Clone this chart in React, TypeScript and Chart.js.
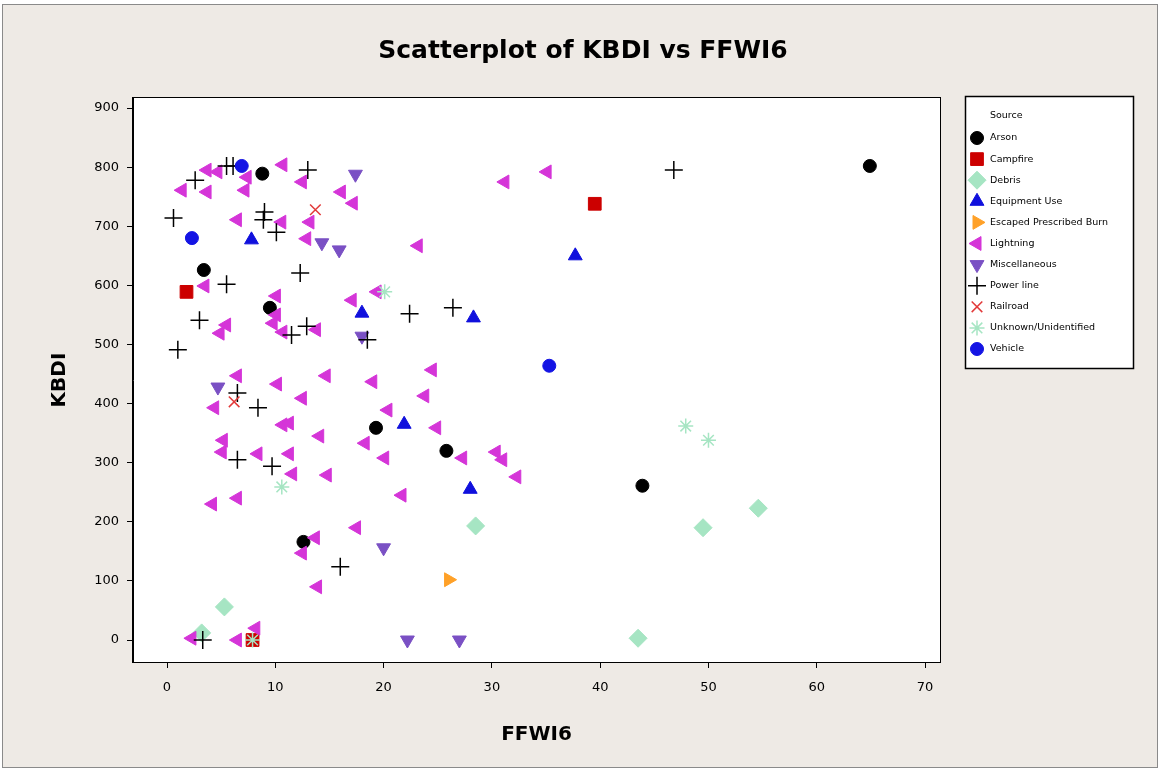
import React, { useEffect, useRef } from 'react';
import { Chart, registerables } from 'chart.js';
import { drawPoint } from 'chart.js/helpers';

Chart.register(...registerables);

const chartTitle = 'Scatterplot of KBDI vs FFWI6';
const xTitle = 'FFWI6';
const yTitle = 'KBDI';
const legendTitle = 'Source';

const xTicks = [0, 10, 20, 30, 40, 50, 60, 70];
const yTicks = [0, 100, 200, 300, 400, 500, 600, 700, 800, 900];

const arson = [[8.8, 789], [3.4, 626], [9.5, 562], [19.3, 359], [25.8, 320], [43.9, 261], [12.6, 166], [64.9, 802]];
const campfire = [[1.8, 589], [39.5, 738], [7.9, 0]];
const debris = [[28.5, 193], [49.5, 190], [54.6, 223], [5.3, 56], [3.2, 12], [43.5, 3]];
const equipmentUse = [[7.8, 677], [37.7, 650], [18.0, 553], [28.3, 545], [21.9, 365], [28.0, 255]];
const escapedBurn = [[26.0, 102]];
const lightning = [
  [3.7, 795], [4.7, 792], [7.4, 783], [7.2, 761], [1.4, 761], [3.7, 758], [10.7, 804], [12.5, 775],
  [16.1, 758], [17.2, 739], [31.2, 775], [35.1, 792], [6.5, 711], [10.6, 707], [13.2, 707], [12.9, 679],
  [23.2, 667], [3.5, 599], [10.1, 582], [17.1, 575], [19.4, 589], [10.1, 550], [9.8, 536], [10.7, 521],
  [5.5, 533], [4.9, 519], [13.8, 525], [6.5, 447], [10.2, 433], [14.7, 447], [19.0, 437], [24.5, 457],
  [23.8, 413], [12.5, 409], [4.4, 393], [20.4, 389], [10.7, 364], [11.3, 367], [14.1, 345], [18.3, 333],
  [24.9, 359], [5.2, 338], [5.1, 318], [8.4, 315], [11.3, 315], [20.1, 308], [27.3, 308], [30.4, 318],
  [31.0, 305], [32.3, 276], [11.6, 281], [14.8, 279], [21.7, 245], [4.2, 230], [6.5, 240], [13.7, 173],
  [12.5, 147], [17.5, 190], [13.9, 90], [8.2, 20], [6.5, 0], [2.3, 3],
];
const miscellaneous = [[17.4, 788], [14.3, 672], [15.9, 660], [18.0, 514], [4.7, 428], [20.0, 156], [22.2, 0], [27.0, 0]];
const powerLine = [
  [5.5, 802], [6.1, 802], [2.6, 778], [13.0, 795], [46.8, 795], [0.6, 714], [9.0, 724], [8.9, 711],
  [10.1, 690], [12.3, 621], [5.5, 602], [3.0, 541], [1.0, 491], [11.5, 516], [12.9, 531], [18.5, 508],
  [22.4, 552], [26.4, 562], [6.5, 418], [8.4, 393], [6.5, 305], [9.7, 294], [16.0, 124], [3.3, 0],
];
const railroad = [[13.7, 728], [6.2, 403]];
const unknown = [[20.1, 589], [10.6, 259], [47.9, 362], [50.0, 338], [7.9, 0]];
const vehicle = [[6.9, 802], [2.3, 680], [35.3, 464]];

const seriesNames = ['Arson', 'Campfire', 'Debris', 'Equipment Use', 'Escaped Prescribed Burn', 'Lightning', 'Miscellaneous', 'Power line', 'Railroad', 'Unknown/Unidentified', 'Vehicle'];
const seriesData = [arson, campfire, debris, equipmentUse, escapedBurn, lightning, miscellaneous, powerLine, railroad, unknown, vehicle];
const seriesColors = ['#000000', '#CC0000', '#A6E5C3', '#1010DD', '#FFA128', '#D535D8', '#7A50C4', '#000000', '#E23A3A', '#A6E5C3', '#1414E4'];
const seriesStyles = ['circle', 'rect', 'rectRot', 'triangle', 'triangle', 'triangle', 'triangle', 'cross', 'crossRot', 'star', 'circle'];
const seriesRotation = [0, 0, 0, 0, 90, -90, 180, 0, 0, 0, 0];
const seriesRadius = [6.5, 9, 9, 8, 8, 8, 8, 9, 7.5, 7.5, 6.5];

const FONT = '"DejaVu Sans", Verdana, sans-serif';

const decorPlugin = {
  id: 'decor',
  beforeDraw(chart: any) {
    const { ctx, chartArea } = chart;
    ctx.save();
    ctx.fillStyle = '#ffffff';
    ctx.fillRect(chartArea.left, chartArea.top, chartArea.right - chartArea.left, chartArea.bottom - chartArea.top);
    ctx.restore();
  },
  afterDraw(chart: any) {
    const { ctx, chartArea } = chart;
    ctx.save();
    // plot frame
    ctx.strokeStyle = '#000';
    ctx.lineWidth = 1;
    ctx.strokeRect(Math.round(chartArea.left) - 0.5, Math.round(chartArea.top) - 0.5,
      Math.round(chartArea.right - chartArea.left) + 1, Math.round(chartArea.bottom - chartArea.top) + 1);
    // title
    ctx.fillStyle = '#000';
    ctx.font = 'bold 25px ' + FONT;
    ctx.textAlign = 'center';
    ctx.textBaseline = 'middle';
    ctx.fillText(chartTitle, 583, 51);
    // legend
    const bx = Math.round(chartArea.right) + 25;
    const by = Math.round(chartArea.top) - 2;
    const bw = 168;
    const bh = 272;
    ctx.fillStyle = '#fff';
    ctx.fillRect(bx, by, bw, bh);
    ctx.strokeStyle = '#000';
    ctx.lineWidth = 1.5;
    ctx.strokeRect(bx + 0.5, by + 0.5, bw, bh);
    ctx.font = '9.5px ' + FONT;
    ctx.textAlign = 'left';
    ctx.fillStyle = '#000';
    ctx.fillText(legendTitle, bx + 25, by + 20);
    chart.data.datasets.forEach((ds: any, i: number) => {
      const y = by + 42 + i * 21.1;
      ctx.fillStyle = ds.pointBackgroundColor;
      ctx.strokeStyle = ds.pointBorderColor;
      ctx.lineWidth = ds.pointBorderWidth;
      drawPoint(ctx, { pointStyle: ds.pointStyle, rotation: ds.pointRotation, radius: ds.pointRadius, borderWidth: ds.pointBorderWidth } as any, bx + 12, y);
      ctx.fillStyle = '#000';
      ctx.fillText(ds.label, bx + 25, y);
    });
    ctx.restore();
  },
};

export default function App() {
  const ref = useRef<HTMLCanvasElement | null>(null);
  useEffect(() => {
    if (!ref.current) return;
    const n = seriesNames.length;
    const datasets = seriesNames.map((name, i) => {
      const lineStyle = ['cross', 'crossRot', 'star'].includes(seriesStyles[i]);
      return {
        label: name,
        data: seriesData[i].map(([x, y]) => ({ x, y })),
        pointStyle: seriesStyles[i],
        pointRotation: seriesRotation[i],
        pointRadius: seriesRadius[i],
        pointHoverRadius: seriesRadius[i],
        pointBackgroundColor: lineStyle ? 'rgba(0,0,0,0)' : seriesColors[i],
        pointBorderColor: seriesColors[i],
        pointBorderWidth: lineStyle ? 1.5 : 1,
        order: n - i,
      };
    });
    const chart = new Chart(ref.current, {
      type: 'scatter',
      data: { datasets } as any,
      options: {
        animation: false,
        responsive: false,
        events: [],
        layout: { padding: { left: 44, right: 221, top: 98, bottom: 0 } },
        plugins: {
          legend: { display: false },
          tooltip: { enabled: false },
          title: { display: false },
        },
        scales: {
          x: {
            type: 'linear',
            min: -3.14,
            max: 71.38,
            afterBuildTicks: (s: any) => { s.ticks = xTicks.map((v) => ({ value: v })); },
            afterFit: (s: any) => { s.height = 109; },
            grid: { display: true, drawOnChartArea: false, drawTicks: true, tickLength: 6, tickColor: '#000', tickWidth: 1 },
            border: { display: true, color: '#000' },
            ticks: { color: '#000', font: { family: FONT, size: 13 }, padding: 12, maxRotation: 0, autoSkip: false },
            title: { display: true, text: xTitle, color: '#000', font: { family: FONT, size: 20, weight: 'bold' }, padding: { top: 4, bottom: 24 } },
          },
          y: {
            type: 'linear',
            min: -37.2,
            max: 917,
            afterBuildTicks: (s: any) => { s.ticks = yTicks.map((v) => ({ value: v })); },
            afterFit: (s: any) => { s.width = 89; },
            grid: { display: true, drawOnChartArea: false, drawTicks: true, tickLength: 6, tickColor: '#000', tickWidth: 1 },
            border: { display: true, color: '#000' },
            ticks: { color: '#000', font: { family: FONT, size: 13 }, padding: 8, autoSkip: false },
            title: { display: true, text: yTitle, color: '#000', font: { family: FONT, size: 20, weight: 'bold' }, padding: { top: 4, bottom: 4 } },
          },
        },
      } as any,
      plugins: [decorPlugin],
    });
    return () => chart.destroy();
  }, []);

  return (
    <div style={{ position: 'absolute', left: 0, top: 0, width: 1161, height: 771, background: '#ffffff' }}>
      <div style={{ position: 'absolute', left: 2, top: 4, width: 1154, height: 762, border: '1px solid #8a8a8a', background: '#EEEAE5' }} />
      <canvas ref={ref} width={1161} height={771} style={{ position: 'absolute', left: 0, top: 0 }} />
    </div>
  );
}
